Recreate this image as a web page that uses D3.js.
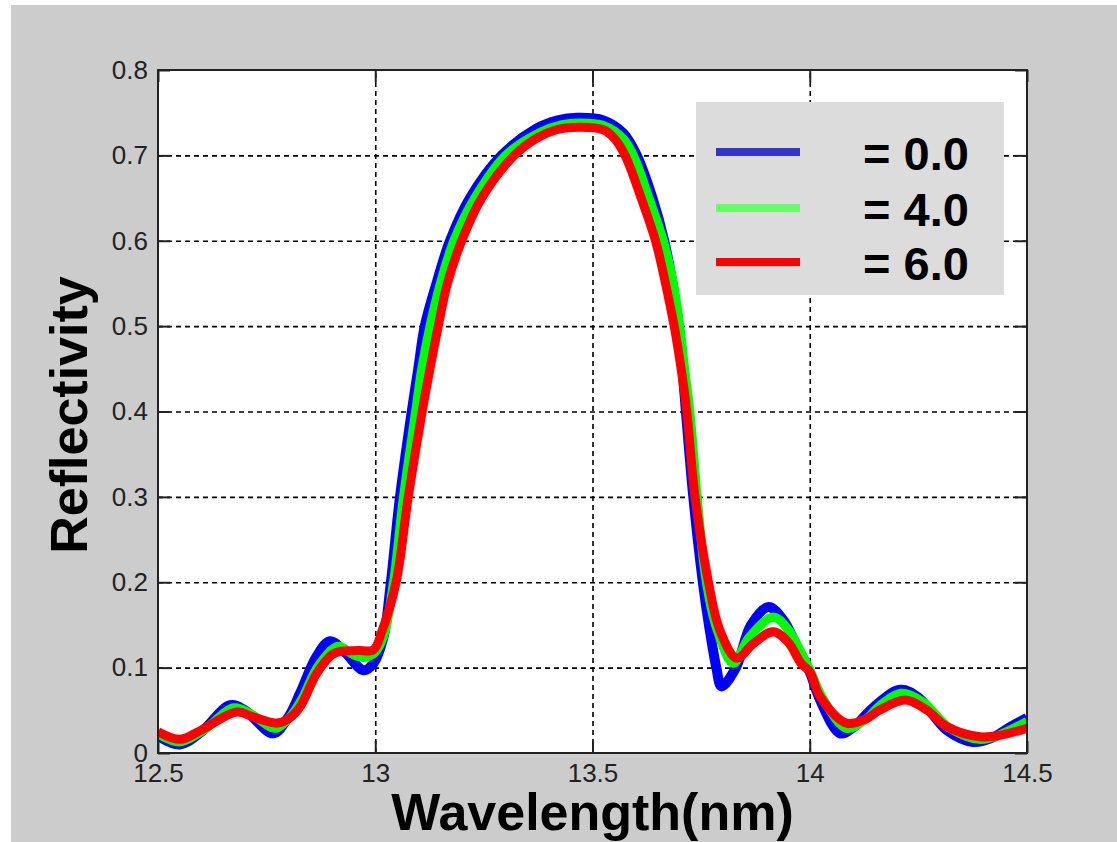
<!DOCTYPE html>
<html><head><meta charset="utf-8">
<script src="https://cdn.jsdelivr.net/npm/d3@7"></script>
<style>
html,body{margin:0;padding:0;background:#fff;}
svg{display:block;}
</style></head>
<body>
<svg id="chart" width="1117" height="842"></svg>
<script>
// ---- data ----
const xTicks = [12.5, 13, 13.5, 14, 14.5];
const xTickLabels = ["12.5", "13", "13.5", "14", "14.5"];
const yTicks = [0, 0.1, 0.2, 0.3, 0.4, 0.5, 0.6, 0.7, 0.8];
const yTickLabels = ["0", "0.1", "0.2", "0.3", "0.4", "0.5", "0.6", "0.7", "0.8"];
const seriesNames = ["= 0.0", "= 4.0", "= 6.0"];

const wlBlue = [12.50,12.55,12.60,12.666,12.70,12.765,12.80,12.827,12.865,12.896,12.93,12.973,12.996,13.019,13.036,13.057,13.084,13.099,13.114,13.141,13.172,13.218,13.291,13.37,13.42,13.465,13.525,13.571,13.602,13.638,13.665,13.684,13.698,13.707,13.715,13.732,13.754,13.768,13.785,13.797,13.83,13.865,13.905,13.94,13.97,14.00,14.024,14.07,14.10,14.15,14.208,14.25,14.315,14.376,14.42,14.46,14.50];
const rBlue  = [0.020,0.010,0.025,0.056,0.050,0.023,0.042,0.070,0.113,0.131,0.118,0.097,0.105,0.136,0.200,0.300,0.400,0.450,0.500,0.550,0.600,0.650,0.700,0.731,0.741,0.744,0.741,0.726,0.700,0.650,0.600,0.550,0.500,0.450,0.400,0.300,0.200,0.150,0.100,0.078,0.100,0.150,0.171,0.155,0.125,0.095,0.062,0.023,0.030,0.055,0.074,0.065,0.027,0.013,0.018,0.030,0.041];

const wlGreen = [12.50,12.55,12.60,12.675,12.71,12.77,12.80,12.83,12.87,12.915,12.95,12.975,13.00,13.02,13.042,13.065,13.093,13.107,13.126,13.15,13.181,13.229,13.30,13.38,13.43,13.47,13.525,13.57,13.594,13.63,13.663,13.686,13.701,13.712,13.724,13.741,13.762,13.787,13.824,13.86,13.916,13.95,13.98,14.00,14.03,14.085,14.13,14.16,14.21,14.26,14.32,14.39,14.43,14.50];
const rGreen  = [0.022,0.013,0.025,0.053,0.047,0.029,0.040,0.062,0.103,0.125,0.115,0.112,0.118,0.138,0.200,0.300,0.400,0.450,0.500,0.550,0.600,0.650,0.700,0.727,0.736,0.738,0.735,0.720,0.700,0.650,0.600,0.550,0.500,0.450,0.400,0.300,0.200,0.144,0.105,0.135,0.159,0.145,0.118,0.098,0.064,0.029,0.040,0.055,0.070,0.060,0.030,0.016,0.020,0.037];

const wlRed = [12.50,12.551,12.60,12.681,12.72,12.773,12.80,12.827,12.865,12.90,12.919,12.96,12.996,13.015,13.048,13.076,13.108,13.126,13.145,13.166,13.199,13.245,13.32,13.371,13.417,13.47,13.525,13.55,13.575,13.612,13.645,13.668,13.688,13.704,13.717,13.736,13.767,13.793,13.832,13.87,13.916,13.95,13.98,14.00,14.024,14.085,14.13,14.16,14.22,14.27,14.315,14.392,14.44,14.50];
const rRed  = [0.025,0.016,0.027,0.048,0.042,0.035,0.040,0.054,0.093,0.115,0.119,0.120,0.121,0.142,0.200,0.300,0.400,0.450,0.500,0.550,0.600,0.650,0.700,0.720,0.730,0.733,0.730,0.720,0.700,0.650,0.600,0.550,0.500,0.450,0.400,0.300,0.200,0.144,0.111,0.128,0.142,0.130,0.105,0.095,0.066,0.035,0.040,0.050,0.062,0.050,0.031,0.019,0.021,0.029];

(function () {
const svg = d3.select("#chart");
const W = 1117, H = 842;
const mLeft = 158, mRight = 1027, mTop = 70, mBottom = 753;
const pw = mRight - mLeft, ph = mBottom - mTop;

svg.append("rect").attr("x",0).attr("y",0).attr("width",W).attr("height",H).attr("fill","#ffffff");
svg.append("rect").attr("x",11).attr("y",5).attr("width",W-11).attr("height",H-5).attr("fill","#cccccc");

const x = d3.scaleLinear().domain([12.5, 14.5]).range([mLeft, mRight]);
const y = d3.scaleLinear().domain([0, 0.8]).range([mBottom, mTop]);

svg.append("rect").attr("x",mLeft).attr("y",mTop).attr("width",pw).attr("height",ph).attr("fill","#ffffff");

// grid
const gridX = svg.append("g").attr("transform",`translate(0,${mBottom})`)
  .call(d3.axisBottom(x).tickValues(xTicks.slice(1,-1)).tickSize(-ph).tickFormat(""));
const gridY = svg.append("g").attr("transform",`translate(${mLeft},0)`)
  .call(d3.axisLeft(y).tickValues(yTicks.slice(1,-1)).tickSize(-pw).tickFormat(""));
[gridX, gridY].forEach(g => {
  g.select(".domain").remove();
  g.selectAll("line").attr("stroke","#000").attr("stroke-width",1.6).attr("stroke-dasharray","5,4");
});

// lines
svg.append("clipPath").attr("id","clip").append("rect")
  .attr("x",mLeft).attr("y",mTop-10).attr("width",pw).attr("height",ph+10);
const line = d3.line().x(d => x(d[0])).y(d => y(d[1])).curve(d3.curveCatmullRom.alpha(0.5));
const series = [
  {wl: wlBlue, r: rBlue, color: "#0000ff", w: 10},
  {wl: wlGreen, r: rGreen, color: "#00ff00", w: 9},
  {wl: wlRed, r: rRed, color: "#ff0000", w: 9}
];
const gLines = svg.append("g").attr("clip-path","url(#clip)");
series.forEach(s => {
  gLines.append("path").datum(s.wl.map((v,i)=>[v, s.r[i]]))
    .attr("d", line).attr("fill","none").attr("stroke", s.color)
    .attr("stroke-width", s.w).attr("stroke-linejoin","round");
});

// legend box
const legend = svg.append("g");
legend.append("rect").attr("x",696).attr("y",102).attr("width",308).attr("height",193).attr("fill","#dcdcdc");
const legendColors = ["#3333cc", "#66ff66", "#ff0000"];
const legendY = [152, 208, 262];
seriesNames.forEach((n,i) => {
  legend.append("line").attr("x1",716).attr("x2",800).attr("y1",legendY[i]).attr("y2",legendY[i])
    .attr("stroke",legendColors[i]).attr("stroke-width",8);
  legend.append("text").attr("x",863).attr("y",legendY[i]+6).attr("dominant-baseline","middle")
    .attr("font-family","Liberation Sans, Arial, sans-serif").attr("font-weight","bold")
    .attr("font-size",47).attr("fill","#000").text(n);
});

// axes with inward ticks
const tickFont = "Liberation Sans Narrow, Arial Narrow, Liberation Sans, sans-serif";
const axB = svg.append("g").attr("transform",`translate(0,${mBottom})`)
  .call(d3.axisBottom(x).tickValues(xTicks).tickSizeInner(-12).tickSizeOuter(0).tickPadding(11)
    .tickFormat((d,i)=>xTickLabels[i]));
const axL = svg.append("g").attr("transform",`translate(${mLeft},0)`)
  .call(d3.axisLeft(y).tickValues(yTicks).tickSizeInner(-12).tickSizeOuter(0).tickPadding(10)
    .tickFormat((d,i)=>yTickLabels[i]));
const axT = svg.append("g").attr("transform",`translate(0,${mTop})`)
  .call(d3.axisTop(x).tickValues(xTicks).tickSizeInner(-12).tickSizeOuter(0).tickFormat(""));
const axR = svg.append("g").attr("transform",`translate(${mRight},0)`)
  .call(d3.axisRight(y).tickValues(yTicks).tickSizeInner(-12).tickSizeOuter(0).tickFormat(""));
[axB, axL, axT, axR].forEach(g => {
  g.select(".domain").remove();
  g.selectAll("line").attr("stroke","#222").attr("stroke-width",2);
  g.selectAll("text").attr("font-family",tickFont).attr("font-size",26).attr("fill","#222");
});
svg.append("rect").attr("x",mLeft).attr("y",mTop).attr("width",pw).attr("height",ph)
  .attr("fill","none").attr("stroke","#222").attr("stroke-width",2);

// axis titles
svg.append("text").attr("x", (mLeft+mRight)/2).attr("y", 830).attr("text-anchor","middle")
  .attr("font-family","Liberation Sans, Arial, sans-serif").attr("font-weight","bold")
  .attr("font-size",52).attr("fill","#000").text("Wavelength(nm)");
svg.append("text").attr("transform","translate(87,415) rotate(-90)").attr("text-anchor","middle")
  .attr("font-family","Liberation Sans, Arial, sans-serif").attr("font-weight","bold")
  .attr("font-size",52).attr("fill","#000").text("Reflectivity");
})();
</script>
</body></html>
